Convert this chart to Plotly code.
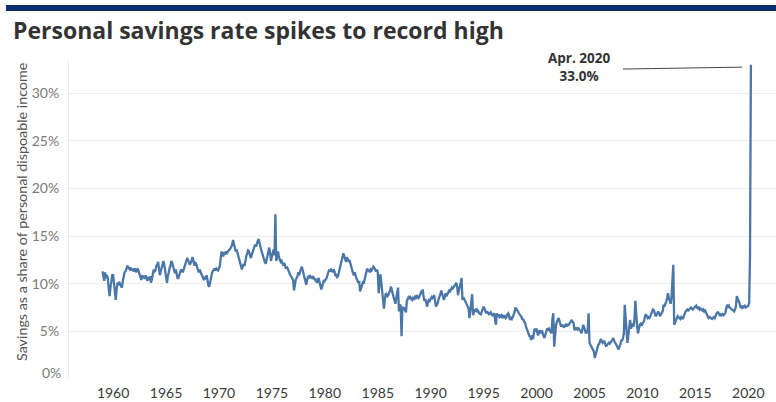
import plotly.graph_objects as go
import pandas as pd

# Monthly personal saving rate, % of disposable personal income (Jan 1959 - Apr 2020)
rate_1959_1969 = [
    11.3, 10.6, 10.3, 11.2, 10.6, 10.9, 10.6, 9.5, 8.7, 9.6, 10.4, 10.9,
    10.9, 10.2, 9.1, 8.3, 9.4, 10.1, 10.0, 10.2, 9.9, 9.8, 9.6, 10.3,
    11.0, 11.2, 11.3, 11.5, 11.9, 11.8, 11.6, 11.5, 11.7, 11.4, 11.6, 11.3,
    11.5, 11.6, 11.2, 11.4, 11.6, 11.3, 11.0, 10.7, 10.4, 10.9, 10.6, 10.8,
    10.5, 10.9, 10.6, 10.3, 10.7, 10.4, 10.8, 10.1, 10.5, 11.0, 11.5, 11.3,
    11.4, 11.9, 12.0, 12.3, 11.8, 10.9, 11.3, 11.6, 11.9, 12.4, 12.0, 11.4,
    10.8, 10.1, 10.7, 11.4, 11.6, 11.9, 12.4, 12.2, 11.8, 11.3, 11.1, 11.5,
    11.0, 10.6, 10.6, 10.9, 11.2, 11.5, 11.4, 11.2, 11.5, 11.8, 12.2, 12.4,
    12.7, 12.5, 12.3, 12.0, 12.2, 12.4, 12.8, 12.5, 11.9, 12.3, 12.1, 11.7,
    11.4, 11.2, 11.5, 11.3, 11.0, 10.9, 10.6, 10.4, 10.6, 10.5, 10.9, 10.2,
    9.8, 9.7, 10.3, 10.8, 11.1, 11.3, 11.5, 11.6, 11.4, 11.6, 11.5, 11.4,
]
rate_1970_1979 = [
    11.6, 11.9, 12.7, 13.4, 13.0, 12.9, 13.3, 13.2, 13.4, 13.1, 13.4, 13.5,
    13.5, 13.7, 13.9, 14.1, 14.6, 14.2, 13.5, 13.4, 13.6, 13.2, 12.9, 12.6,
    12.3, 11.8, 11.5, 11.8, 12.1, 11.9, 12.5, 12.9, 13.2, 13.5, 13.4, 12.9,
    12.7, 13.0, 13.3, 13.5, 13.8, 14.1, 13.9, 14.3, 14.5, 14.7, 14.4, 13.9,
    13.5, 13.2, 12.8, 12.4, 12.3, 12.1, 12.6, 13.1, 13.5, 13.8, 13.2, 12.4,
    12.9, 13.3, 13.6, 13.0, 17.3, 12.4, 12.9, 13.4, 12.8, 12.6, 12.3, 12.4,
    12.1, 11.9, 12.2, 11.8, 11.6, 11.8, 11.5, 11.3, 11.1, 10.9, 10.7, 10.5,
    10.4, 9.3, 9.9, 10.4, 10.6, 10.8, 11.2, 10.9, 11.3, 11.5, 11.8, 11.4,
    11.0, 10.6, 10.3, 9.9, 10.4, 10.8, 10.7, 10.9, 10.6, 10.8, 10.5, 10.7,
    10.6, 10.4, 10.5, 10.1, 10.4, 10.6, 10.2, 9.8, 9.4, 9.7, 10.1, 10.4,
]
rate_1980_1989 = [
    10.3, 10.4, 10.6, 10.9, 11.2, 11.5, 11.3, 11.5, 11.4, 11.2, 11.5, 11.3,
    10.8, 10.9, 10.7, 10.8, 11.2, 11.6, 12.0, 12.5, 12.9, 13.2, 12.9, 12.5,
    12.3, 12.8, 12.6, 12.4, 12.5, 12.1, 11.9, 11.5, 11.1, 10.9, 11.2, 10.8,
    10.6, 10.4, 10.1, 10.3, 9.2, 9.5, 9.8, 10.1, 10.0, 10.4, 10.8, 11.1,
    11.6, 11.3, 11.5, 11.2, 11.5, 11.4, 11.6, 11.8, 11.7, 11.5, 11.3, 11.5,
    11.2, 9.0, 9.8, 11.0, 10.2, 9.4, 8.7, 7.4, 8.3, 9.0, 8.9, 8.7,
    8.8, 9.0, 9.3, 9.7, 9.2, 8.7, 8.6, 8.3, 7.9, 8.5, 8.9, 9.6,
    7.1, 7.8, 7.7, 4.5, 7.6, 7.3, 7.4, 7.1, 7.0, 8.2, 8.4, 8.6,
    8.5, 8.6, 8.4, 8.3, 8.5, 8.4, 8.6, 8.5, 8.8, 8.7, 8.5, 8.6,
    8.9, 9.1, 9.0, 9.4, 8.6, 8.2, 8.4, 7.9, 7.6, 8.1, 8.3, 8.2,
]
rate_1990_1999 = [
    8.4, 8.6, 8.5, 8.7, 8.8, 8.2, 7.6, 7.8, 8.0, 8.4, 8.6, 8.9,
    9.3, 8.9, 8.6, 8.3, 8.6, 9.0, 8.7, 8.9, 9.1, 9.3, 9.2, 9.5,
    9.6, 9.5, 9.7, 9.8, 9.9, 10.1, 9.7, 8.8, 9.3, 9.6, 10.1, 10.6,
    8.3, 8.6, 8.4, 8.2, 8.0, 7.9, 7.6, 7.4, 6.4, 7.2, 7.6, 8.9,
    6.7, 7.0, 7.3, 7.2, 7.4, 7.0, 7.1, 6.9, 6.8, 6.8, 7.1, 7.3,
    7.6, 7.4, 7.2, 6.9, 7.1, 7.0, 6.8, 6.9, 7.0, 6.8, 6.7, 6.8,
    6.9, 6.2, 5.7, 6.9, 6.6, 6.8, 6.5, 6.6, 6.7, 6.4, 6.6, 6.5,
    6.6, 6.4, 6.5, 6.8, 6.9, 6.6, 6.2, 6.4, 6.3, 6.5, 6.7, 7.0,
    7.5, 7.4, 7.2, 7.1, 6.9, 6.8, 6.7, 6.5, 6.2, 6.3, 6.0, 5.9,
    5.5, 5.2, 5.0, 4.8, 4.5, 4.4, 4.1, 4.6, 4.2, 4.8, 5.3, 5.0,
]
rate_2000_2009 = [
    5.3, 4.8, 4.6, 5.1, 5.0, 4.9, 5.1, 4.7, 4.5, 4.3, 4.6, 4.9,
    5.3, 5.2, 5.3, 5.1, 4.9, 4.8, 6.3, 6.9, 3.4, 4.8, 5.6, 6.0,
    6.2, 6.4, 6.1, 5.8, 5.5, 5.7, 5.6, 5.4, 5.6, 5.7, 5.5, 5.8,
    5.6, 5.8, 5.9, 6.0, 6.2, 6.0, 5.9, 5.1, 5.4, 5.3, 5.2, 5.4,
    5.3, 5.1, 5.0, 4.8, 5.2, 5.7, 5.4, 5.1, 4.8, 4.9, 5.2, 6.9,
    3.8, 3.6, 3.4, 3.3, 3.1, 2.9, 2.2, 2.6, 3.1, 3.3, 3.6, 3.7,
    4.1, 4.2, 4.0, 3.8, 3.9, 4.0, 3.6, 3.4, 3.6, 3.7, 3.8, 3.7,
    3.8, 3.9, 4.1, 4.3, 4.0, 3.8, 3.7, 3.5, 3.4, 3.1, 3.4, 3.6,
    4.1, 4.0, 4.3, 4.8, 7.8, 6.0, 4.6, 3.8, 4.5, 5.4, 6.2, 5.3,
    5.6, 5.8, 5.5, 6.3, 8.2, 6.4, 5.6, 4.8, 5.4, 5.7, 5.8, 5.6,
]
rate_2010_2020 = [
    5.8, 5.9, 6.1, 6.6, 6.8, 6.6, 6.4, 6.5, 6.4, 6.6, 6.8, 7.0,
    7.3, 7.2, 6.8, 6.6, 6.7, 6.9, 7.1, 6.9, 6.6, 6.8, 6.9, 7.1,
    7.8, 7.6, 7.9, 8.1, 8.5, 9.0, 8.5, 8.0, 7.9, 8.6, 10.0, 12.0,
    5.7, 5.9, 6.2, 6.4, 6.6, 6.5, 6.4, 6.3, 6.5, 6.4, 6.3, 6.6,
    7.0, 7.1, 7.2, 7.3, 7.2, 7.3, 7.4, 7.5, 7.4, 7.3, 7.4, 7.5,
    7.6, 7.7, 7.5, 7.4, 7.5, 7.3, 7.4, 7.3, 7.2, 7.3, 7.1, 7.2,
    7.0, 6.8, 6.6, 6.4, 6.5, 6.4, 6.4, 6.3, 6.4, 6.5, 6.4, 6.7,
    6.9, 7.0, 7.0, 6.8, 6.7, 6.8, 6.7, 6.8, 6.7, 6.8, 6.9, 7.4,
    7.8, 7.6, 7.7, 7.5, 7.4, 7.3, 7.3, 7.2, 7.1, 7.3, 7.6, 8.7,
    8.5, 8.2, 8.0, 7.6, 7.5, 7.7, 7.5, 7.6, 7.7, 7.5, 7.6, 7.6,
    7.7, 8.0, 12.8, 33.0,
]

savings_rate = (rate_1959_1969 + rate_1970_1979 + rate_1980_1989
                + rate_1990_1999 + rate_2000_2009 + rate_2010_2020)
months = pd.date_range("1959-01-01", periods=len(savings_rate), freq="MS")

year_ticks = list(range(1960, 2021, 5))
pct_ticks = [0, 5, 10, 15, 20, 25, 30]

peak_idx = max(range(len(savings_rate)), key=lambda i: savings_rate[i])
peak_date = months[peak_idx]
peak_value = savings_rate[peak_idx]

LINE_BLUE = "#4a76a8"
GRID = "#ececec"

# plot area: 707 x 319 px, its top-left corner at (69, 60)
L, T, W, H = 69, 60, 707, 319


def px_x(px):
    return (px - L) / W


def px_y(py):
    return (T + H - py) / H


fig = go.Figure()
fig.add_trace(go.Scatter(
    x=months, y=savings_rate, mode="lines",
    line=dict(color=LINE_BLUE, width=2.3),
    hoverinfo="skip", showlegend=False,
))

fig.update_layout(
    width=776, height=402,
    margin=dict(l=L, r=776 - L - W, t=T, b=402 - T - H),
    paper_bgcolor="white", plot_bgcolor="white",
    font=dict(family="Lato, Open Sans, sans-serif"),
    xaxis=dict(
        type="date",
        range=["1955-11-01", "2022-08-15"],
        tickvals=[f"{y}-01-01" for y in year_ticks],
        ticktext=[str(y) for y in year_ticks],
        tickfont=dict(size=14, color="#3a3a3a"),
        showgrid=False, zeroline=False, showline=False, ticks="",
        ticklabelstandoff=4,
    ),
    yaxis=dict(
        range=[0, 33.5],
        tickvals=pct_ticks,
        ticktext=["" if v == 0 else f"{v}%" for v in pct_ticks],
        tickfont=dict(size=14, color="#7a7a7a"),
        showgrid=True, gridcolor=GRID, gridwidth=1,
        zeroline=False, showline=True, linecolor=GRID, linewidth=1,
        ticks="", ticklabelstandoff=6,
    ),
    showlegend=False,
)

# 0% label sits a little above its gridline
fig.add_annotation(
    x=0, xref="paper", xanchor="right", xshift=-6,
    y=0, yref="y", yanchor="middle", yshift=7,
    text="0%", showarrow=False,
    font=dict(size=14, color="#7a7a7a"),
)

# Headline
fig.add_annotation(
    x=px_x(11), xref="paper", y=px_y(30), yref="paper",
    text="<b>Personal savings rate spikes to record high</b>",
    showarrow=False, xanchor="left", yanchor="middle",
    font=dict(size=23, color="#333333", family="Open Sans, sans-serif"),
)

# Y-axis title
fig.add_annotation(
    x=px_x(21), xref="paper", y=px_y(212), yref="paper",
    text="Savings as a share of personal dispoable income",
    textangle=-90, showarrow=False, xanchor="center", yanchor="middle",
    font=dict(size=14.3, color="#555555"),
)

# Callout for the peak month
label_x = pd.Timestamp("2004-02-01")
fig.add_annotation(
    x=label_x, y=px_y(67.5), xref="x", yref="paper",
    text=f"<b>{peak_date.strftime('%b')}. {peak_date.year}<br>{peak_value:.1f}%</b>",
    showarrow=False, xanchor="center", yanchor="middle", borderpad=0,
    font=dict(size=13.5, color="#333333", family="Open Sans, sans-serif"),
)
fig.add_shape(
    type="line", xref="x", yref="y",
    x0="2008-03-01", y0=32.55, x1="2019-06-01", y1=32.75,
    line=dict(color="#444444", width=1),
)

# Dark banner across the top
fig.add_shape(
    type="rect", xref="paper", yref="paper",
    x0=px_x(6), x1=1.0, y0=px_y(11), y1=px_y(5),
    fillcolor="#0b2d6b", line=dict(width=0),
)

fig.write_html("out.html")
